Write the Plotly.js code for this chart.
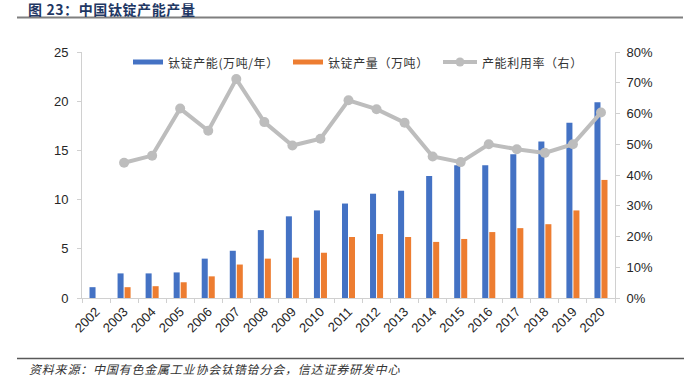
<!DOCTYPE html>
<html>
<head>
<meta charset="utf-8">
<script src="https://cdn.plot.ly/plotly-3.0.1.min.js"></script>
<style>
html,body{margin:0;padding:0;background:#fff;}
#chart{width:700px;height:386px;}
#chart .annotation[data-index="0"] text{letter-spacing:0.6px;}
#chart .annotation[data-index="1"] text{letter-spacing:0.8px;}
#chart .annotation[data-index="2"] text,
#chart .annotation[data-index="3"] text,
#chart .annotation[data-index="4"] text{letter-spacing:0.6px;}
</style>
</head>
<body>
<div id="chart"></div>
<script>
// ---- data ----
const years = ['2002','2003','2004','2005','2006','2007','2008','2009','2010','2011','2012','2013','2014','2015','2016','2017','2018','2019','2020'];
const capacity = [1.1,2.5,2.5,2.6,4.0,4.8,6.9,8.3,8.9,9.6,10.6,10.9,12.4,13.5,13.5,14.6,15.9,17.8,19.9];
const output = [null,1.1,1.2,1.6,2.2,3.4,4.0,4.1,4.6,6.2,6.5,6.2,5.7,6.0,6.7,7.1,7.5,8.9,12.0];
const utilization = [null,0.44,0.463,0.616,0.544,0.712,0.572,0.496,0.518,0.643,0.614,0.570,0.460,0.442,0.500,0.484,0.472,0.500,0.603];
const seriesNames = ['钛锭产能(万吨/年）','钛锭产量（万吨）','产能利用率（右）'];
const titleText = '图 23：中国钛锭产能产量';
const sourceText = '资料来源：中国有色金属工业协会钛锆铪分会，信达证券研发中心';

// ---- style ----
const BLUE = '#4472C4', ORANGE = '#ED7D31', GRAY = '#BDBDBD';
const L = 82, R = 615, T = 52, B = 298;
const px = p => (p - L) / (R - L);
const py = p => (B - p) / (B - T);
const cjk = '"Noto Sans CJK SC", "Noto Sans", sans-serif';
const latin = '"Liberation Sans", Arial, sans-serif';

const traces = [
  {type:'bar', x:years, y:capacity, name:seriesNames[0], marker:{color:BLUE}, showlegend:false, hoverinfo:'y'},
  {type:'bar', x:years, y:output, name:seriesNames[1], marker:{color:ORANGE}, showlegend:false, hoverinfo:'y'},
  {type:'scatter', mode:'lines+markers', x:years, y:utilization, yaxis:'y2', name:seriesNames[2],
   line:{color:GRAY, width:4}, marker:{color:GRAY, size:10}, showlegend:false, connectgaps:false, cliponaxis:false}
];

const axisLine = '#D0D0D0';
const layout = {
  width:700, height:386,
  margin:{l:L, r:700-R, t:T, b:386-B, pad:0},
  paper_bgcolor:'#fff', plot_bgcolor:'#fff',
  barmode:'group', bargap:0.5, bargroupgap:0.14,
  font:{family:latin, size:12.5, color:'#262626'},
  xaxis:{type:'category', range:[-0.5, years.length-0.5], autorange:false, tickangle:-45, showline:true, linecolor:axisLine, linewidth:1,
         ticks:'outside', tickson:'boundaries', ticklen:4, tickcolor:axisLine, showgrid:false,
         tickfont:{family:latin, size:13, color:'#262626'}, automargin:false, fixedrange:true},
  yaxis:{range:[0,25], dtick:5, showline:true, linecolor:axisLine, linewidth:1, ticks:'outside',
         ticklen:4, tickcolor:axisLine, showgrid:false, zeroline:false,
         tickfont:{family:latin, size:13, color:'#262626'}, automargin:false, ticklabelstandoff:6},
  yaxis2:{range:[0,0.8], dtick:0.1, tickformat:'.0%', overlaying:'y', side:'right', showline:true,
          linecolor:axisLine, linewidth:1, ticks:'outside', ticklen:4, tickcolor:axisLine,
          showgrid:false, zeroline:false, tickfont:{family:latin, size:13, color:'#262626'},
          automargin:false, ticklabelstandoff:4},
  showlegend:false,
  shapes:[
    // title underline
    {type:'line', xref:'paper', yref:'paper', x0:px(17), x1:px(683), y0:py(17.5), y1:py(17.5), line:{color:'#7F7F7F', width:2}},
    // footer line
    {type:'line', xref:'paper', yref:'paper', x0:px(17), x1:px(684), y0:py(358.5), y1:py(358.5), line:{color:'#595959', width:1.5}},
    // legend swatches
    {type:'rect', xref:'paper', yref:'paper', x0:px(133), x1:px(163), y0:py(64.5), y1:py(59.5), fillcolor:BLUE, line:{width:0}},
    {type:'rect', xref:'paper', yref:'paper', x0:px(293), x1:px(323), y0:py(64.5), y1:py(59.5), fillcolor:ORANGE, line:{width:0}},
    {type:'line', xref:'paper', yref:'paper', x0:px(443), x1:px(477), y0:py(62), y1:py(62), line:{color:GRAY, width:4}},
    {type:'circle', xref:'paper', yref:'paper', x0:px(455.5), x1:px(464.5), y0:py(66.5), y1:py(57.5), fillcolor:GRAY, line:{width:0}}
  ],
  annotations:[
    {text:'<b>'+titleText+'</b>', xref:'paper', yref:'paper', x:px(26), y:py(8.5), xanchor:'left', yanchor:'middle', align:'left',
     showarrow:false, font:{family:cjk, size:14, color:'#1F3864'}},
    {text:sourceText, xref:'paper', yref:'paper', x:px(27), y:py(368), xanchor:'left', yanchor:'middle', align:'left',
     showarrow:false, font:{family:cjk, size:12, color:'#333333', style:'italic'}},
    {text:seriesNames[0], xref:'paper', yref:'paper', x:px(166), y:py(62), xanchor:'left', yanchor:'middle', align:'left',
     showarrow:false, font:{family:cjk, size:12, color:'#333333'}},
    {text:seriesNames[1], xref:'paper', yref:'paper', x:px(326), y:py(62), xanchor:'left', yanchor:'middle', align:'left',
     showarrow:false, font:{family:cjk, size:12, color:'#333333'}},
    {text:seriesNames[2], xref:'paper', yref:'paper', x:px(480), y:py(62), xanchor:'left', yanchor:'middle', align:'left',
     showarrow:false, font:{family:cjk, size:12, color:'#333333'}}
  ]
};

Plotly.newPlot('chart', traces, layout, {displayModeBar:false, staticPlot:true});
</script>
</body>
</html>
